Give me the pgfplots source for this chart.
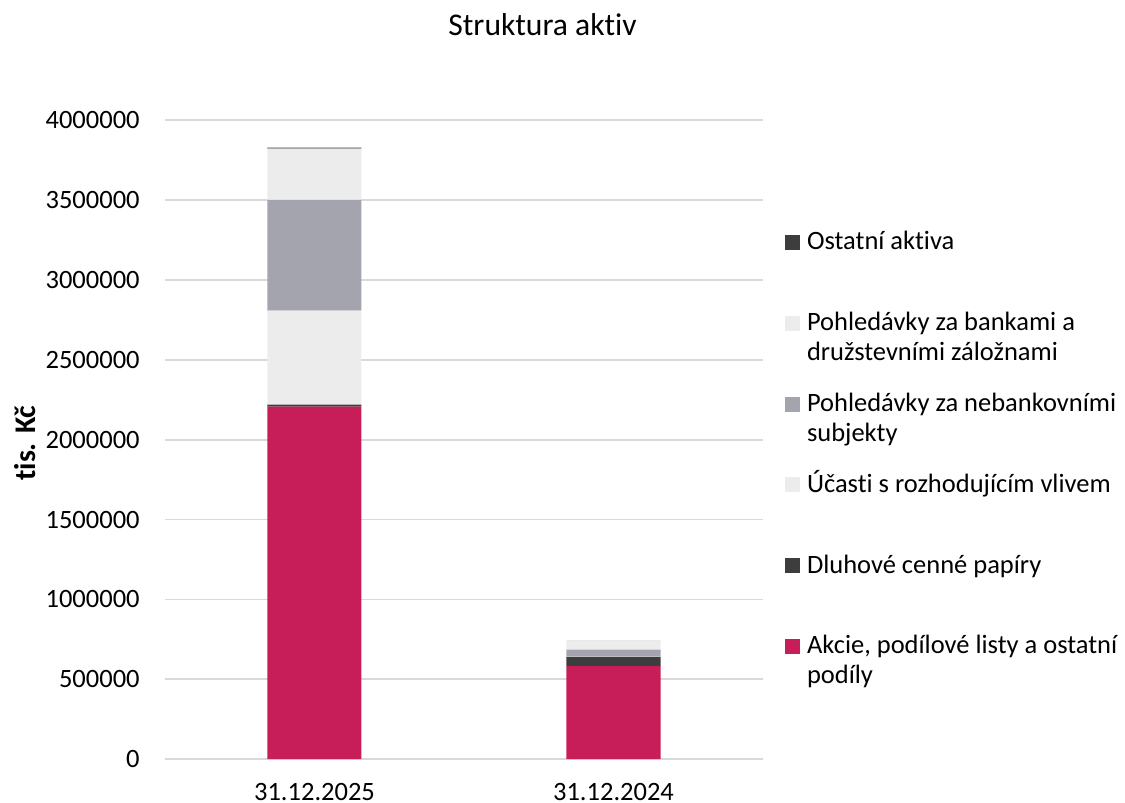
\documentclass[border=0pt]{standalone}
\usepackage{fontspec}
\setmainfont{Carlito}[Ligatures=NoCommon]
\usepackage{pgfplots}
\pgfplotsset{compat=1.18}
\definecolor{crimson}{HTML}{C71E5A}
\definecolor{darkg}{HTML}{3D3D3D}
\definecolor{midg}{HTML}{A4A4AE}
\definecolor{lightg}{HTML}{EBECEB}
\definecolor{gridg}{HTML}{D9D9D9}
\newcommand\bodyfont{\fontsize{13.25bp}{15bp}\selectfont}
\newcommand\lentry[1]{\parbox[t]{170bp}{\raggedright\strut #1}}
\begin{document}
\begin{tikzpicture}
\begin{axis}[
  at={(0,0)}, anchor=south west,
  scale only axis, width=299bp, height=319.6bp,
  xmin=-0.5, xmax=1.5, ymin=0, ymax=4000000,
  xtick={0,1}, xticklabels={31.12.2025,31.12.2024},
  ytick={0,500000,...,4000000},
  scaled y ticks=false,
  /pgf/number format/assume math mode=true,
  /pgf/number format/fixed,
  /pgf/number format/set thousands separator={},
  tick label style={font=\bodyfont},
  yticklabel style={anchor=east, inner sep=0pt, xshift=-12.5bp},
  xticklabel style={anchor=base, inner sep=0pt, yshift=-20.5bp},
  major tick length=0pt,
  axis line style={draw=none},
  ymajorgrids, grid style={color=gridg, line width=0.9bp},
  ybar stacked, bar width=47bp,
  reverse legend,
  legend image code/.code={\fill[#1] (0bp,0bp) rectangle (7.5bp,7.5bp);},
  legend style={draw=none, fill=none, inner sep=0pt, outer sep=0pt,
    row sep=0pt, column sep=3.5bp, font=\bodyfont,
    cells={anchor=base west}, nodes={inner sep=0pt, text height=10.5bp, text depth=29.9bp},
    at={(1.0368,0.8295)}, anchor=north west},
]
\addplot[fill=crimson, draw=none] coordinates {(0,2205600) (1,582500)};
\addlegendentry{\lentry{Akcie, podílové listy a ostatní\\podíly}}
\addplot[fill=darkg, draw=none] coordinates {(0,14000) (1,58300)};
\addlegendentry{\lentry{Dluhové cenné papíry}}
\addplot[fill=lightg, draw=none] coordinates {(0,587500) (1,1000)};
\addlegendentry{\lentry{Účasti s rozhodujícím vlivem}}
\addplot[fill=midg, draw=none] coordinates {(0,693500) (1,43750)};
\addlegendentry{\lentry{Pohledávky za nebankovními\\subjekty}}
\addplot[fill=lightg, draw=none] coordinates {(0,320600) (1,56250)};
\addlegendentry{\lentry{Pohledávky za bankami a\\družstevními záložnami}}
\addplot[fill=darkg, draw=none] coordinates {(0,6250) (1,1000)};
\addlegendentry{\lentry{Ostatní aktiva}}
\end{axis}
\node[anchor=base, font=\fontsize{15.8bp}{18bp}\selectfont] at (188.75bp,361.6bp) {Struktura aktiv};
\node[rotate=90, anchor=center, font=\fontsize{15bp}{18bp}\selectfont\bfseries] at (-70bp,158bp) {tis. Kč};
\pgfresetboundingbox
\useasboundingbox (-82.5bp,-21.9bp) rectangle (480bp,379.6bp);
\end{tikzpicture}
\end{document}
